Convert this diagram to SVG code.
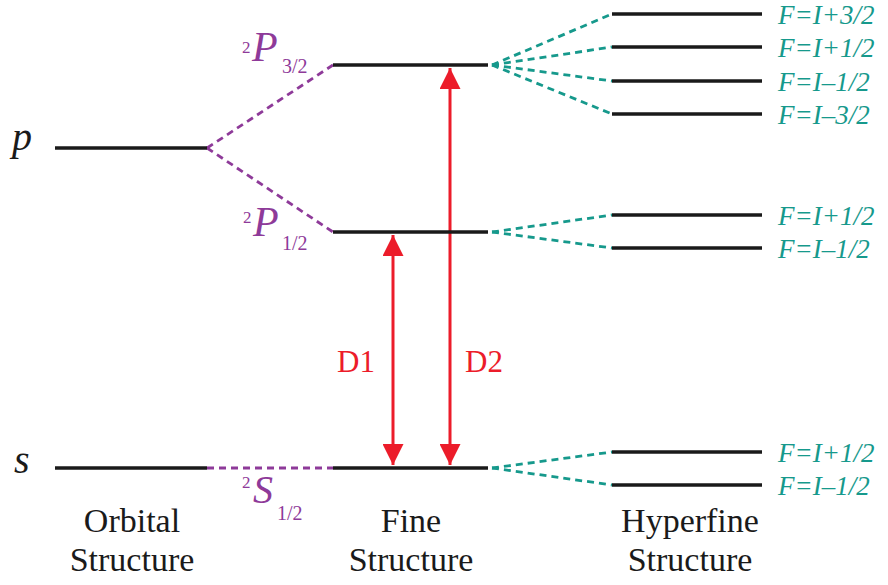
<svg xmlns="http://www.w3.org/2000/svg" width="888" height="585" viewBox="0 0 888 585">
<style>
.lvl{stroke:#1a1a1a;stroke-width:3.5;fill:none}
.pd{stroke:#8e3a99;stroke-width:2.8;stroke-dasharray:7 5;fill:none}
.td{stroke:#16998c;stroke-width:2.8;stroke-dasharray:7 5;fill:none}
.arr{stroke:#ec1c2a;stroke-width:3;fill:none}
text{font-family:'Liberation Serif','Times New Roman','DejaVu Serif',serif}
.hf{font-style:italic;font-size:27px;fill:#16998c}
.st{font-size:34px;fill:#1a1a1a;text-anchor:middle}
.orb{font-style:italic;font-size:40px;fill:#1a1a1a}
.term{fill:#8e3a99}
.d{font-size:31px;fill:#ec1c2a}
</style>
<defs>
<marker id="ah" viewBox="0 0 10 10" refX="10" refY="5" markerWidth="7.5" markerHeight="7" markerUnits="strokeWidth" orient="auto-start-reverse">
<path d="M0,0 L10,5 L0,10 z" fill="#ec1c2a"/>
</marker>
</defs>
<g id="connectors">
<path class="pd" d="M207,148 L333,65"/>
<path class="pd" d="M207,148 L333,232"/>
<path class="pd" d="M207,468 L333,468"/>
<path class="td" d="M492,65 L612,14"/>
<path class="td" d="M492,65 L612,47"/>
<path class="td" d="M492,65 L612,81"/>
<path class="td" d="M492,65 L612,114"/>
<path class="td" d="M492,232 L612,215"/>
<path class="td" d="M492,232 L612,248"/>
<path class="td" d="M492,468 L612,452"/>
<path class="td" d="M492,468 L612,485"/>
<path class="arr" d="M393,235 L393,465" marker-start="url(#ah)" marker-end="url(#ah)"/>
<path class="arr" d="M450,68 L450,465" marker-start="url(#ah)" marker-end="url(#ah)"/>
</g>
<g id="orbital-p"><path class="lvl" d="M55,148 H207"/><text class="orb" x="12" y="150">p</text></g>
<g id="orbital-s"><path class="lvl" d="M55,468 H207"/><text class="orb" x="14" y="473">s</text></g>
<g id="fine-P32"><path class="lvl" d="M333,65 H488"/>
<text class="term" x="242" y="53" font-size="17">2</text>
<text class="term" x="252" y="61" font-size="42" font-style="italic">P</text>
<text class="term" x="282" y="73" font-size="20">3/2</text></g>
<g id="fine-P12"><path class="lvl" d="M333,232 H488"/>
<text class="term" x="243" y="223" font-size="17">2</text>
<text class="term" x="253" y="236" font-size="42" font-style="italic">P</text>
<text class="term" x="282" y="250" font-size="20">1/2</text></g>
<g id="fine-S12"><path class="lvl" d="M333,468 H488"/>
<text class="term" x="242" y="488" font-size="17">2</text>
<text class="term" x="253" y="503" font-size="40" font-style="italic">S</text>
<text class="term" x="277" y="520" font-size="20">1/2</text></g>
<g id="hf1"><path class="lvl" d="M612,14 H762"/><text class="hf" x="778" y="24">F=I+3/2</text></g>
<g id="hf2"><path class="lvl" d="M612,47 H762"/><text class="hf" x="778" y="57">F=I+1/2</text></g>
<g id="hf3"><path class="lvl" d="M612,81 H762"/><text class="hf" x="778" y="91">F=I–1/2</text></g>
<g id="hf4"><path class="lvl" d="M612,114 H762"/><text class="hf" x="778" y="124">F=I–3/2</text></g>
<g id="hf5"><path class="lvl" d="M612,215 H762"/><text class="hf" x="778" y="225">F=I+1/2</text></g>
<g id="hf6"><path class="lvl" d="M612,248 H762"/><text class="hf" x="778" y="258">F=I–1/2</text></g>
<g id="hf7"><path class="lvl" d="M612,452 H762"/><text class="hf" x="778" y="462">F=I+1/2</text></g>
<g id="hf8"><path class="lvl" d="M612,485 H762"/><text class="hf" x="778" y="495">F=I–1/2</text></g>
<g id="D1"><text class="d" x="337" y="372">D1</text></g>
<g id="D2"><text class="d" x="465" y="372">D2</text></g>
<g id="labels">
<text class="st" x="132" y="532">Orbital</text>
<text class="st" x="132" y="571">Structure</text>
<text class="st" x="411" y="532">Fine</text>
<text class="st" x="411" y="571">Structure</text>
<text class="st" x="690" y="532">Hyperfine</text>
<text class="st" x="690" y="571">Structure</text>
</g>
</svg>
